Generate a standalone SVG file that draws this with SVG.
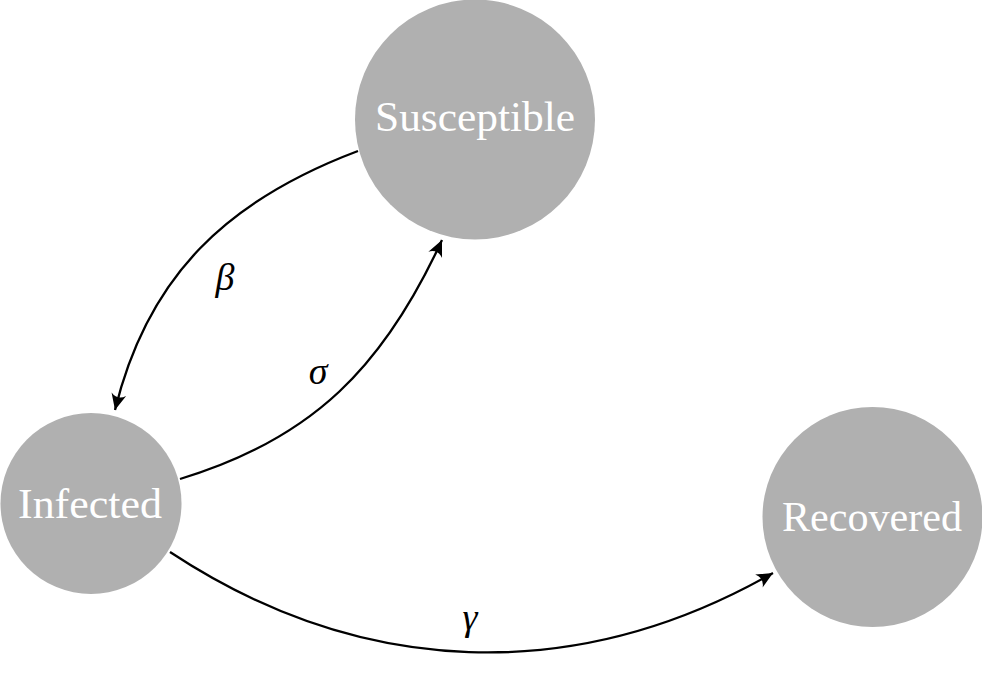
<svg xmlns="http://www.w3.org/2000/svg" width="982" height="685" viewBox="0 0 982 685">
<style>
.node circle{fill:#b0b0b0;stroke:none}
.node text{fill:#ffffff;font-family:"Liberation Serif","DejaVu Serif",serif;font-size:42px;text-anchor:middle}
.edge{fill:none;stroke:#000;stroke-width:2.3}
.lbl{font-family:"Liberation Serif","DejaVu Serif",serif;font-style:italic;font-size:38px;text-anchor:middle;fill:#000}
</style>
<defs>
<marker id="arr" markerUnits="userSpaceOnUse" markerWidth="20" markerHeight="20" viewBox="-14 -8 16 16" refX="0" refY="0" orient="auto">
<path d="M0,0 L-13,-6 Q-8,0 -13,6 Z" fill="#000"/>
</marker>
</defs>
<rect width="982" height="685" fill="#fff"/>
<g id="connectors">
<path class="edge" d="M358,151 C228,200 148,275 115,410" marker-end="url(#arr)"/>
<path class="edge" d="M180,479 C313,439 384,366 442,240" marker-end="url(#arr)"/>
<path class="edge" d="M170,552 C361,678 575,686 773,573" marker-end="url(#arr)"/>
<text class="lbl" x="225" y="290">β</text>
<text class="lbl" x="318" y="384">σ</text>
<text class="lbl" x="470" y="630">γ</text>
</g>
<g id="susceptible" class="node">
<circle cx="475" cy="119.5" r="120"/>
<text x="475" y="131" textLength="200" lengthAdjust="spacingAndGlyphs">Susceptible</text>
</g>
<g id="infected" class="node">
<circle cx="91" cy="503.5" r="90.5"/>
<text x="90" y="518" textLength="144" lengthAdjust="spacingAndGlyphs">Infected</text>
</g>
<g id="recovered" class="node">
<circle cx="872.5" cy="517" r="110"/>
<text x="872" y="531" textLength="180" lengthAdjust="spacingAndGlyphs">Recovered</text>
</g>
</svg>
